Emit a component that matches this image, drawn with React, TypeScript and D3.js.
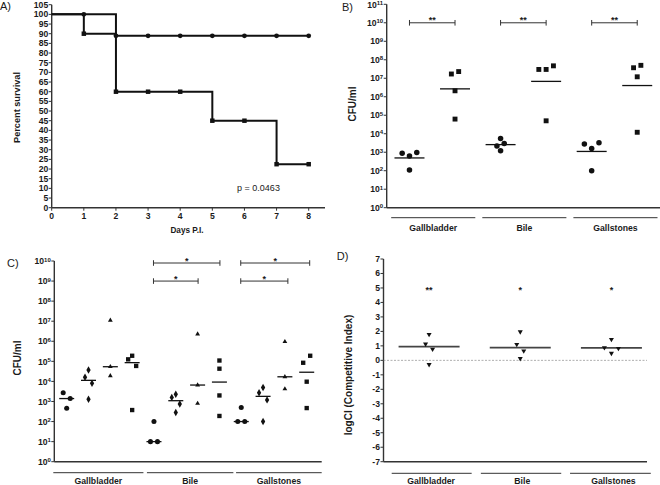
import React from "react";
import * as d3 from "d3";

// ---------- DATA ----------
const survivalDays = [0, 1, 2, 3, 4, 5, 6, 7, 8];
const survivalCircle = [100, 100, 88.9, 88.9, 88.9, 88.9, 88.9, 88.9, 88.9];
const survivalSquare = [100, 90, 60, 60, 60, 45, 45, 22.5, 22.5];
const survivalTicksY = d3.range(0, 106, 5);
const pValueText = "p = 0.0463";

const groups = ["Gallbladder", "Bile", "Gallstones"];

// Panel B (circles vs squares), CFU/ml
const bCircle = [
  [870, 620, 980, 110],
  [5600, 2200, 3000, 1200],
  [2800, 1600, 3300, 100],
];
const bSquare = [
  [1.7e7, 2.3e7, 2.1e6, 6.2e4],
  [3e7, 3e7, 4.7e7, 5e4],
  [3.7e7, 5e7, 1.2e7, 1.2e4],
];
const bExponents = d3.range(0, 12);
const bSig = ["**", "**", "**"];

// Panel C (circle, diamond, triangle, square), CFU/ml
const cCircle = [
  [2700, 1400, 460],
  [100, 10, 10],
  [500, 100, 100],
];
const cDiamond = [
  [16000, 37000, 8000, 1300],
  [1600, 2300, 750, 280],
  [2700, 5000, 1200, 100],
];
const cTriangle = [
  [1.1e7, 5.4e4, 1.9e4],
  [2.3e6, 6.6e3, 800],
  [9.5e5, 1.7e4, 4.2e3],
];
const cSquare = [
  [1.26e5, 1.9e5, 5.9e4, 375],
  [1.1e5, 4.3e4, 2000, 190],
  [8.5e4, 1.9e5, 9.7e3, 470],
];
const cExponents = d3.range(0, 11);
// brackets: [groupIndex, fromSeries, toSeries, log10 level, label]
const cBrackets: [number, number, number, number, string][] = [
  [1, 0, 3, 9.9, "*"],
  [1, 0, 2, 9.0, "*"],
  [2, 0, 3, 9.9, "*"],
  [2, 0, 2, 9.0, "*"],
];

// Panel D, logCI
const dValues = [
  [1.79, 1.13, 0.77, -0.29],
  [1.97, 1.1, 0.65, 0.13],
  [1.45, 0.88, 0.49, 0.83],
];
const dTicks = d3.range(-7, 8);
const dSig = ["**", "*", "*"];
const dSigLevel = 5;

// ---------- HELPERS ----------
const FONT = "'Liberation Sans', Arial, Helvetica, sans-serif";
const AXIS = "#333";
const INK = "#111";
const TXT = "#1a1a1a";
const TICK_FS = 8.6;

function swarmOffsets(ys: number[], thresh: number, spacing: number, maxW: number) {
  const idx = ys.map((y, i) => i).sort((a, b) => ys[a] - ys[b]);
  const clusters: number[][] = [];
  let cur: number[] = [];
  idx.forEach((i, k) => {
    if (k === 0 || Math.abs(ys[i] - ys[idx[k - 1]]) < thresh) cur.push(i);
    else {
      clusters.push(cur);
      cur = [i];
    }
  });
  if (cur.length) clusters.push(cur);
  const off = ys.map(() => 0);
  clusters.forEach((c) => {
    const members = [...c].sort((a, b) => a - b);
    const n = members.length;
    if (n < 2) return;
    const s = Math.min(spacing, maxW / (n - 1));
    members.forEach((m, k) => (off[m] = (k - (n - 1) / 2) * s));
  });
  return off;
}

const Pow10 = ({ x, y, e }: { x: number; y: number; e: number }) => (
  <text x={x} y={y} textAnchor="end" fontFamily={FONT} fontWeight="bold" fontSize={TICK_FS} fill={TXT}>
    10
    <tspan dy={-2.6} fontSize={6}>
      {e}
    </tspan>
  </text>
);

function Marker({ type, x, y, size }: { type: string; x: number; y: number; size: number }) {
  const sym =
    type === "circle"
      ? d3.symbolCircle
      : type === "square"
      ? d3.symbolSquare
      : type === "diamond"
      ? d3.symbolDiamond
      : d3.symbolTriangle;
  const path = d3.symbol(sym, size)() as string;
  const rot = type === "tridown" ? 180 : 0;
  return <path d={path} transform={`translate(${x},${y}) rotate(${rot})`} fill={INK} />;
}

// ---------- PANEL A ----------
function PanelA() {
  const x = d3.scaleLinear().domain([0, 8]).range([51.7, 308.7]);
  const y = d3.scaleLinear().domain([0, 105]).range([207.7, 4.7]);
  const line = d3
    .line<number>()
    .x((d, i) => x(survivalDays[i]))
    .y((d) => y(d))
    .curve(d3.curveStepAfter);
  return (
    <g>
      <text x={0} y={10} fontFamily={FONT} fontSize={11} fill={TXT}>A)</text>
      <line x1={x(0)} x2={x(0)} y1={y(105)} y2={y(0)} stroke={AXIS} strokeWidth={1.4} />
      <line x1={x(0)} x2={325} y1={y(0)} y2={y(0)} stroke={AXIS} strokeWidth={1.4} />
      {survivalTicksY.map((t) => (
        <g key={t}>
          <line x1={x(0) - 3} x2={x(0)} y1={y(t)} y2={y(t)} stroke={AXIS} strokeWidth={1} />
          <text x={x(0) - 3.5} y={y(t) + 3} textAnchor="end" fontFamily={FONT} fontWeight="bold" fontSize={TICK_FS} fill={TXT}>
            {t}
          </text>
        </g>
      ))}
      {survivalDays.map((t) => (
        <g key={t}>
          <line x1={x(t)} x2={x(t)} y1={y(0)} y2={y(0) + 3} stroke={AXIS} strokeWidth={1} />
          <text x={x(t)} y={y(0) + 11} textAnchor="middle" fontFamily={FONT} fontWeight="bold" fontSize={TICK_FS} fill={TXT}>
            {t}
          </text>
        </g>
      ))}
      <text x={187} y={233} textAnchor="middle" fontFamily={FONT} fontWeight="bold" fontSize={8.2} fill={TXT}>
        Days P.I.
      </text>
      <text transform={`translate(16.7,107.5) rotate(-90)`} textAnchor="middle" dominantBaseline="central" fontFamily={FONT} fontWeight="bold" fontSize={9.2} fill={TXT}>
        Percent survival
      </text>
      <path d={line(survivalCircle) as string} fill="none" stroke={INK} strokeWidth={2} />
      <path d={line(survivalSquare) as string} fill="none" stroke={INK} strokeWidth={2} />
      {survivalCircle.map((v, i) =>
        i === 0 ? null : <Marker key={"c" + i} type="circle" x={x(survivalDays[i])} y={y(v)} size={18} />
      )}
      {survivalSquare.map((v, i) =>
        i === 0 ? null : <Marker key={"s" + i} type="square" x={x(survivalDays[i])} y={y(v)} size={20} />
      )}
      <text x={258.5} y={191.3} textAnchor="middle" fontFamily={FONT} fontSize={9} fill={TXT}>
        {pValueText}
      </text>
    </g>
  );
}

// ---------- PANEL B ----------
function PanelB() {
  const left = 386.7,
    right = 660;
  const y = d3.scaleLog().domain([1, 1e11]).range([207.7, 4.3]);
  const cols = d3.scaleBand<number>().domain(d3.range(6)).range([left, right]);
  const gb = d3.scaleBand<number>().domain(d3.range(3)).range([left, right]);
  const cx = (i: number) => (cols(i) as number) + cols.bandwidth() / 2;
  const series = [
    { data: bCircle, type: "circle", size: 24 },
    { data: bSquare, type: "square", size: 24 },
  ];
  return (
    <g>
      <text x={342} y={10.7} fontFamily={FONT} fontSize={11} fill={TXT}>B)</text>
      <line x1={left} x2={left} y1={y(1e11)} y2={y(1)} stroke={AXIS} strokeWidth={1.4} />
      <line x1={left} x2={right} y1={y(1)} y2={y(1)} stroke={AXIS} strokeWidth={1.4} />
      {bExponents.map((e) => (
        <g key={e}>
          <line x1={left - 3} x2={left} y1={y(Math.pow(10, e))} y2={y(Math.pow(10, e))} stroke={AXIS} strokeWidth={1} />
          <Pow10 x={left - 3.5} y={y(Math.pow(10, e)) + 3.2} e={e} />
        </g>
      ))}
      <text transform={`translate(352.7,104) rotate(-90)`} textAnchor="middle" dominantBaseline="central" fontFamily={FONT} fontWeight="bold" fontSize={10} fill={TXT}>
        CFU/ml
      </text>
      {groups.map((g, gi) => {
        const b0 = gb(gi) as number;
        return (
          <g key={g}>
            <line x1={b0 + 4.5} x2={b0 + gb.bandwidth() - 2.5} y1={217.7} y2={217.7} stroke={AXIS} strokeWidth={1} />
            <text x={b0 + gb.bandwidth() / 2 + 1} y={230.5} textAnchor="middle" fontFamily={FONT} fontWeight="bold" fontSize={8.7} fill={TXT}>
              {g}
            </text>
          </g>
        );
      })}
      {groups.map((g, gi) =>
        series.map((s, si) => {
          const vals = s.data[gi];
          const ys = vals.map((v) => y(v));
          const off = swarmOffsets(ys, 4.5, 7.3, 15);
          const col = gi * 2 + si;
          const gm = Math.pow(10, d3.mean(vals, (v) => Math.log10(v)) as number);
          return (
            <g key={g + si}>
              <line x1={cx(col) - 15} x2={cx(col) + 15} y1={y(gm)} y2={y(gm)} stroke={INK} strokeWidth={1.3} />
              {vals.map((v, i) => (
                <Marker key={i} type={s.type} x={cx(col) + off[i]} y={ys[i]} size={s.size} />
              ))}
            </g>
          );
        })
      )}
      {groups.map((g, gi) => {
        const x1 = cx(gi * 2),
          x2 = cx(gi * 2 + 1),
          yy = y(1e10);
        return (
          <g key={"br" + gi}>
            <line x1={x1} x2={x2} y1={yy} y2={yy} stroke={AXIS} strokeWidth={1} />
            <line x1={x1} x2={x1} y1={yy - 2.8} y2={yy + 2.8} stroke={AXIS} strokeWidth={1} />
            <line x1={x2} x2={x2} y1={yy - 2.8} y2={yy + 2.8} stroke={AXIS} strokeWidth={1} />
            <text x={(x1 + x2) / 2} y={yy + 0.5} textAnchor="middle" fontFamily={FONT} fontWeight="bold" fontSize={9} fill={TXT}>
              {bSig[gi]}
            </text>
          </g>
        );
      })}
    </g>
  );
}

// ---------- PANEL C ----------
function PanelC() {
  const left = 54.3,
    right = 321.7;
  const y = d3.scaleLog().domain([1, 1e10]).range([461.7, 261]);
  const cols = d3.scalePoint<number>().domain(d3.range(12)).range([66.7, 306.7]);
  const gb = d3.scaleBand<number>().domain(d3.range(3)).range([left, right]);
  const series = [
    { data: cCircle, type: "circle", size: 20 },
    { data: cDiamond, type: "diamond", size: 16 },
    { data: cTriangle, type: "triangle", size: 10 },
    { data: cSquare, type: "square", size: 19 },
  ];
  return (
    <g>
      <text x={7} y={266.7} fontFamily={FONT} fontSize={11} fill={TXT}>C)</text>
      <line x1={left} x2={left} y1={y(1e10)} y2={y(1)} stroke={AXIS} strokeWidth={1.4} />
      <line x1={left} x2={right} y1={y(1)} y2={y(1)} stroke={AXIS} strokeWidth={1.4} />
      {cExponents.map((e) => (
        <g key={e}>
          <line x1={left - 3} x2={left} y1={y(Math.pow(10, e))} y2={y(Math.pow(10, e))} stroke={AXIS} strokeWidth={1} />
          <Pow10 x={left - 3.5} y={y(Math.pow(10, e)) + 3.2} e={e} />
        </g>
      ))}
      <text transform={`translate(17.3,358) rotate(-90)`} textAnchor="middle" dominantBaseline="central" fontFamily={FONT} fontWeight="bold" fontSize={10} fill={TXT}>
        CFU/ml
      </text>
      {groups.map((g, gi) => {
        const b0 = gb(gi) as number;
        const x1 = b0 + (gi === 0 ? -1 : 3.5);
        const x2 = b0 + gb.bandwidth() + (gi === 1 ? 0.8 : 0);
        return (
          <g key={g}>
            <line x1={x1} x2={x2} y1={472.7} y2={472.7} stroke={AXIS} strokeWidth={1} />
            <text x={(x1 + x2) / 2} y={484.3} textAnchor="middle" fontFamily={FONT} fontWeight="bold" fontSize={8.7} fill={TXT}>
              {g}
            </text>
          </g>
        );
      })}
      {groups.map((g, gi) =>
        series.map((s, si) => {
          const vals = s.data[gi];
          const ys = vals.map((v) => y(v));
          const off = swarmOffsets(ys, 7.1, 7, 8);
          const col = gi * 4 + si;
          const cx = cols(col) as number;
          const med = Math.pow(10, d3.median(vals, (v) => Math.log10(v)) as number);
          return (
            <g key={g + si}>
              <line x1={cx - 7.5} x2={cx + 7.5} y1={y(med)} y2={y(med)} stroke={INK} strokeWidth={1.3} />
              {vals.map((v, i) => (
                <Marker key={i} type={s.type} x={cx + off[i]} y={ys[i]} size={s.size} />
              ))}
            </g>
          );
        })
      )}
      {cBrackets.map(([gi, a, b, lv, lab], k) => {
        const x1 = (cols(gi * 4 + a) as number) - 0.5,
          x2 = (cols(gi * 4 + b) as number) + (gi === 2 ? 3 : 0.5),
          yy = y(Math.pow(10, lv));
        return (
          <g key={"cb" + k}>
            <line x1={x1} x2={x2} y1={yy} y2={yy} stroke={AXIS} strokeWidth={1} />
            <line x1={x1} x2={x1} y1={yy - 2.8} y2={yy + 2.8} stroke={AXIS} strokeWidth={1} />
            <line x1={x2} x2={x2} y1={yy - 2.8} y2={yy + 2.8} stroke={AXIS} strokeWidth={1} />
            <text x={(x1 + x2) / 2} y={yy + 0.8} textAnchor="middle" fontFamily={FONT} fontWeight="bold" fontSize={9} fill={TXT}>
              {lab}
            </text>
          </g>
        );
      })}
    </g>
  );
}

// ---------- PANEL D ----------
function PanelD() {
  const left = 383.5,
    right = 647,
    bandRight = 657;
  const y = d3.scaleLinear().domain([-7, 7]).range([461.7, 259]);
  const gb = d3.scaleBand<number>().domain(d3.range(3)).range([left, bandRight]);
  return (
    <g>
      <text x={336.7} y={260} fontFamily={FONT} fontSize={11} fill={TXT}>D)</text>
      <line x1={left} x2={left} y1={y(7)} y2={y(-7)} stroke={AXIS} strokeWidth={1.4} />
      <line x1={left} x2={right} y1={y(-7)} y2={y(-7)} stroke={AXIS} strokeWidth={1.4} />
      <line x1={left} x2={right} y1={y(0)} y2={y(0)} stroke="#999" strokeWidth={0.8} strokeDasharray="2,1.5" />
      {dTicks.map((t) => (
        <g key={t}>
          <line x1={left - 3} x2={left} y1={y(t)} y2={y(t)} stroke={AXIS} strokeWidth={1} />
          <text x={left - 3.5} y={y(t) + 3} textAnchor="end" fontFamily={FONT} fontWeight="bold" fontSize={TICK_FS} fill={TXT}>
            {t}
          </text>
        </g>
      ))}
      <text transform={`translate(348.3,375) rotate(-90)`} textAnchor="middle" dominantBaseline="central" fontFamily={FONT} fontWeight="bold" fontSize={10} fill={TXT}>
        logCI (Competitive Index)
      </text>
      {groups.map((g, gi) => {
        const b0 = gb(gi) as number;
        const cx = b0 + gb.bandwidth() / 2;
        const vals = dValues[gi];
        const ys = vals.map((v) => y(v));
        const off = swarmOffsets(ys, 7, 7, 14);
        const med = d3.median(vals) as number;
        return (
          <g key={g}>
            <line x1={b0 + 8.2 - gi * 2} x2={b0 + gb.bandwidth() - 3 - gi * 1.6} y1={473.3} y2={473.3} stroke={AXIS} strokeWidth={1} />
            <text x={cx + 2} y={484.3} textAnchor="middle" fontFamily={FONT} fontWeight="bold" fontSize={8.7} fill={TXT}>
              {g}
            </text>
            <line x1={cx - 30.5} x2={cx + 30.5} y1={y(med)} y2={y(med)} stroke="#444" strokeWidth={1.7} />
            {vals.map((v, i) => (
              <Marker key={i} type="tridown" x={cx + off[i]} y={ys[i]} size={11} />
            ))}
            <text x={cx} y={y(dSigLevel) + 5.2} textAnchor="middle" fontFamily={FONT} fontWeight="bold" fontSize={9} fill={TXT}>
              {dSig[gi]}
            </text>
          </g>
        );
      })}
    </g>
  );
}

export default function App() {
  return (
    <svg
      width={660}
      height={485}
      viewBox="0 0 660 485"
      style={{ position: "absolute", left: 0, top: 0, background: "#fff" }}
    >
      <rect width={660} height={485} fill="#fff" />
      <PanelA />
      <PanelB />
      <PanelC />
      <PanelD />
    </svg>
  );
}
